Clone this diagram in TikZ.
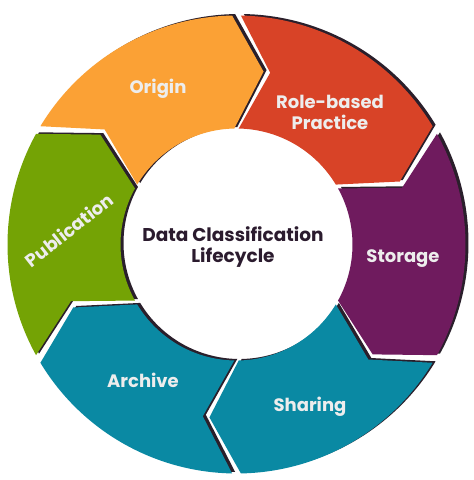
\documentclass[tikz,border=0pt]{standalone}
\usepackage{fontspec}
\setmainfont{Poppins}
\definecolor{origc}{HTML}{FBA135}
\definecolor{rolec}{HTML}{D84327}
\definecolor{storc}{HTML}{6F1B5E}
\definecolor{tealc}{HTML}{0A89A3}
\definecolor{publc}{HTML}{74A305}
\definecolor{shadc}{HTML}{2A1F2B}
\definecolor{labc}{HTML}{EDEDED}
\definecolor{ctrc}{HTML}{2B1B2E}
\begin{document}
\begin{tikzpicture}[x=1pt,y=1pt,
  seglabel/.style={text=labc,font=\bfseries\fontsize{18}{21}\selectfont,align=center,inner sep=0pt},
  ctrlabel/.style={text=ctrc,font=\bfseries\fontsize{18.5}{21}\selectfont,align=center,inner sep=0pt}]
\fill[white] (0,0) rectangle (474,480);
\useasboundingbox (0,0) rectangle (474,480);
\def\R{229}\def\Ri{116}\def\Rm{175}\def\g{1.1}
\begin{scope}[shift={(236.5,235.5)}]
% shadows
\foreach \a in {150,90,30,-30,-90,-150}{
  \pgfmathsetmacro\aa{\a-\g}
  \pgfmathsetmacro\an{\a-10-\g}
  \pgfmathsetmacro\bb{\a-60+\g}
  \pgfmathsetmacro\bt{\a-70+\g}
  \fill[shadc,shift={(3,1.5)}] (\aa:\R) arc[start angle=\aa,end angle=\bb,radius=\R] -- (\bt:\Rm) -- (\bb:\Ri) arc[start angle=\bb,end angle=\aa,radius=\Ri] -- (\an:\Rm) -- cycle;
}
% bodies
\foreach \a/\c in {150/origc,90/rolec,30/storc,-30/tealc,-90/tealc,-150/publc}{
  \pgfmathsetmacro\aa{\a-\g}
  \pgfmathsetmacro\an{\a-10-\g}
  \pgfmathsetmacro\bb{\a-60+\g}
  \pgfmathsetmacro\bt{\a-70+\g}
  \fill[\c] (\aa:\R) arc[start angle=\aa,end angle=\bb,radius=\R] -- (\bt:\Rm) -- (\bb:\Ri) arc[start angle=\bb,end angle=\aa,radius=\Ri] -- (\an:\Rm) -- cycle;
}
\end{scope}
\node[seglabel] (origin) at (158,391) {Origin};
\node[seglabel] (role) at (330,368) {Role-based\\Practice};
\node[seglabel] (storage) at (403,221) {Storage};
\node[seglabel] (sharing) at (310,73) {Sharing};
\node[seglabel] (archive) at (143,100) {Archive};
\node[seglabel,rotate=38] (publication) at (69,250) {Publication};
\node[ctrlabel] (center) at (233,233) {Data Classification\\Lifecycle};
\end{tikzpicture}
\end{document}
